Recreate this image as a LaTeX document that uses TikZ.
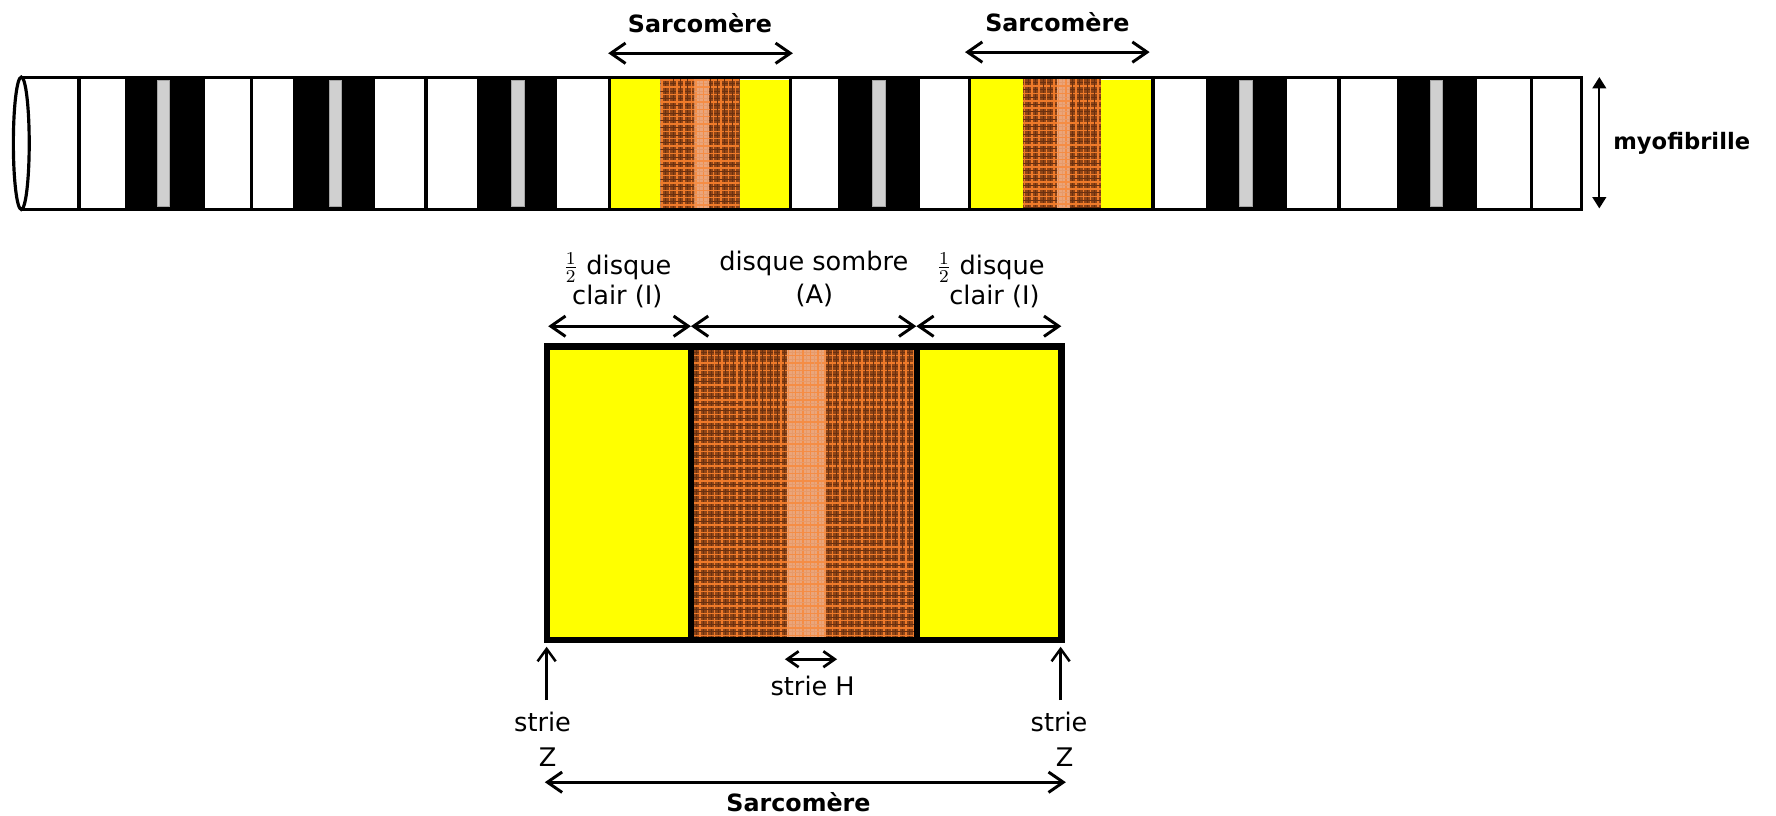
\documentclass[tikz,border=0pt]{standalone}
\usepackage{fontspec}
\setmainfont{DejaVu Sans}
\usetikzlibrary{arrows.meta}

\definecolor{bandyellow}{HTML}{FFFF00}
\definecolor{abase}{HTML}{8F4517}
\definecolor{agrid}{HTML}{EE7A2A}
\definecolor{afine}{HTML}{6A3010}
\definecolor{hbase}{HTML}{EBA57A}
\definecolor{hgrid}{HTML}{F58D45}
\definecolor{hfine}{HTML}{E69A6A}
\definecolor{zgray}{HTML}{D0D0D0}

% textured band: #1,#2 = x range, #3,#4 = y range, #5 base, #6 grid, #7 fine texture
\newcommand\myoband[7]{%
  \begin{scope}
    \clip (#1,#3) rectangle (#2,#4);
    \fill[#5] (#1,#3) rectangle (#2,#4);
    \foreach \k in {0,...,45} {
      \draw[#7,line width=0.35pt] ({#1+4.75+\k*6.5},#3) -- ({#1+4.75+\k*6.5},#4);
      \draw[#7,line width=0.35pt] (#1,{#3+4.75+\k*6.5}) -- (#2,{#3+4.75+\k*6.5});
      \draw[#6,line width=0.65pt] ({#1+1.5+\k*6.5},#3) -- ({#1+1.5+\k*6.5},#4);
      \draw[#6,line width=0.65pt] (#1,{#3+1.5+\k*6.5}) -- (#2,{#3+1.5+\k*6.5});
    }
  \end{scope}}

% stacked one-half
\newcommand\halfmark{\(\frac{1}{2}\)}

\tikzset{
  lbl/.style={inner sep=0pt,anchor=base,font=\fontsize{11.3}{13}\selectfont},
  boldlbl/.style={inner sep=0pt,anchor=base,font=\fontsize{10.5}{13}\selectfont\bfseries},
  dimarrow/.style={line width=1.3pt,
    {Straight Barb[length=6.5pt,width=9pt]}-{Straight Barb[length=6.5pt,width=9pt]}},
  zarrow/.style={line width=1.1pt,-{Straight Barb[length=5.5pt,width=8pt]}},
  harrow/.style={line width=1.2pt,
    {Straight Barb[length=5pt,width=7pt]}-{Straight Barb[length=5pt,width=7pt]}},
  myoarrow/.style={line width=1pt,{Triangle[length=5pt,width=6pt]}-{Triangle[length=5pt,width=6pt]}},
  tubeline/.style={line width=1.3pt},
  zline/.style={line width=1.6pt},
}

\begin{document}
\begin{tikzpicture}[x=0.5pt,y=-0.5pt]
\useasboundingbox (0,0) rectangle (1568,720);

% ---------- myofibril tube ----------
\fill[white] (18,68) rectangle (1396,185);
\foreach \a/\b in {110/181,259/331,421/492,740/812,1065/1136,1233/1304}
  \fill[black] (\a,68) rectangle (\b,185);
\foreach \c in {144,296,457,776,1100,1268}
  \filldraw[fill=zgray,draw=gray!70,line width=0.3pt] (\c-5.5,71) rectangle (\c+5.5,182);

% two highlighted sarcomeres
\fill[bandyellow] (538,70) rectangle (583,184);
\myoband{583}{653}{69}{184}{abase}{agrid}{afine}
\myoband{613}{626}{69}{184}{hbase}{hgrid}{hfine}
\fill[bandyellow] (653,71) rectangle (698,184);
\fill[bandyellow] (856,70) rectangle (903,184);
\myoband{903}{972}{68}{184}{abase}{agrid}{afine}
\myoband{933}{945}{68}{184}{hbase}{hgrid}{hfine}
\fill[bandyellow] (972,71) rectangle (1018,184);

% outline and Z lines
\coordinate (tubeTL) at (18.8,68);
\coordinate (tubeTR) at (1396,68);
\coordinate (tubeBR) at (1396,185);
\coordinate (tubeBL) at (18.8,185);
\draw[tubeline] (tubeTL) -- (tubeTR) -- (tubeBR) -- (tubeBL);
\foreach \x in {70,222,376,538,698,856,1018,1182,1352}
  \draw[zline] (\x,68) -- (\x,185);
\draw[line width=1.4pt,fill=white] (18.8,126.5) ellipse [x radius=3.5pt,y radius=29.2pt];

% myofibril height
\coordinate (myoT) at (1412,68);
\coordinate (myoB) at (1412,184);
\draw[myoarrow] (myoT) -- (myoB);
\node[inner sep=0pt,anchor=west,font=\fontsize{10}{12}\selectfont\bfseries] (myo) at (1424,126.5) {myofibrille};

% sarcomere markers above the tube
\coordinate (s1L) at (537,47);
\coordinate (s1R) at (700,47);
\coordinate (s2L) at (852,46);
\coordinate (s2R) at (1015,46);
\draw[dimarrow] (s1L) -- (s1R);
\draw[dimarrow] (s2L) -- (s2R);
\node[boldlbl] (sarcA) at (618,29) {Sarcomère};
\node[boldlbl] (sarcB) at (933.5,28) {Sarcomère};

% ---------- enlarged sarcomere ----------
\fill[bandyellow] (483,306) rectangle (610,565);
\myoband{610}{809.5}{306}{565}{abase}{agrid}{afine}
\myoband{694.5}{729}{306}{565}{hbase}{hgrid}{hfine}
\fill[bandyellow] (809.5,306) rectangle (937,565);
\coordinate (boxTL) at (483,306);
\coordinate (boxBR) at (937,565);
\draw[line width=3pt] (boxTL) rectangle (boxBR);
\draw[line width=2.8pt] (610,306) -- (610,565);
\draw[line width=2.8pt] (809.5,306) -- (809.5,565);

% band widths
\coordinate (a0) at (484,288);
\coordinate (a1) at (610,288);
\coordinate (a2) at (809,288);
\coordinate (a3) at (937,288);
\draw[dimarrow] (a0) -- (a1);
\draw[dimarrow] (a1) -- (a2);
\draw[dimarrow] (a2) -- (a3);
\node[lbl] (iL1) at (545,242) {\halfmark\ disque};
\node[lbl] (iL2) at (545,269) {clair (I)};
\node[lbl] (aD1) at (718.5,238.5) {disque sombre};
\node[lbl] (aD2) at (719,267.7) {(A)};
\node[lbl] (iR1) at (874.5,242) {\halfmark\ disque};
\node[lbl] (iR2) at (878,269) {clair (I)};

% H zone
\coordinate (h0) at (693,582);
\coordinate (h1) at (739,582);
\draw[harrow] (h0) -- (h1);
\node[lbl] (stH) at (717.5,613.6) {strie H};

% Z lines
\coordinate (z1a) at (482.6,618);
\coordinate (z1b) at (482.6,571);
\coordinate (z2a) at (936.4,618);
\coordinate (z2b) at (936.4,571);
\draw[zarrow] (z1a) -- (z1b);
\draw[zarrow] (z2a) -- (z2b);
\node[lbl] (stZ1) at (479,646) {strie};
\node[lbl] (zZ1) at (483.5,677) {Z};
\node[lbl] (stZ2) at (935,646) {strie};
\node[lbl] (zZ2) at (940,677) {Z};

% sarcomere length
\coordinate (b0) at (481,690.6);
\coordinate (b1) at (941,690.6);
\draw[dimarrow] (b0) -- (b1);
\node[boldlbl] (sarcC) at (705,716.6) {Sarcomère};
\end{tikzpicture}
\end{document}
